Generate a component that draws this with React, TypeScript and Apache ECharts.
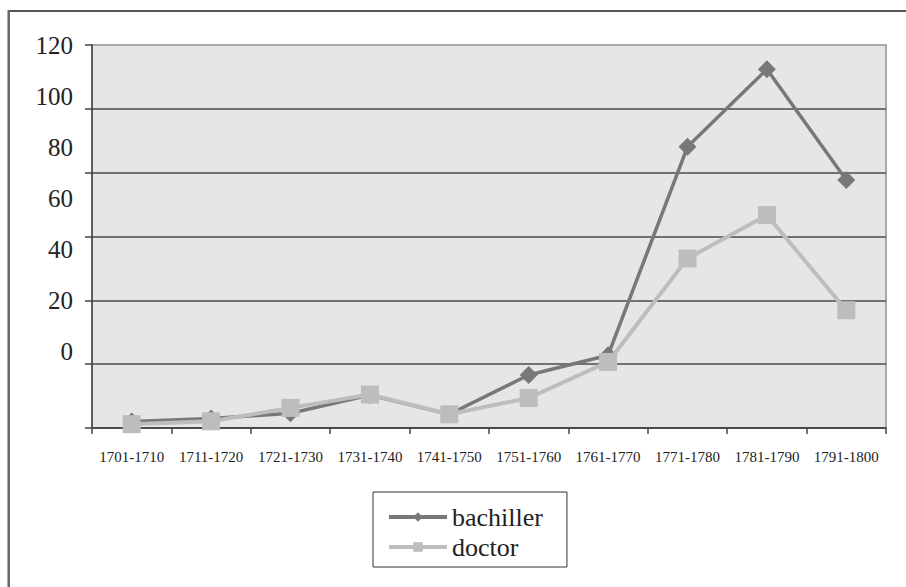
import React, { useEffect, useRef } from "react";
import * as echarts from "echarts";

const categories = [
  "1701-1710",
  "1711-1720",
  "1721-1730",
  "1731-1740",
  "1741-1750",
  "1751-1760",
  "1761-1770",
  "1771-1780",
  "1781-1790",
  "1791-1800",
];
const bachiller = [2, 3, 4.6, 10.3, 4.3, 16.6, 22.8, 88.1, 112.4, 77.7];
const doctor = [1.2, 2.1, 6.3, 10.5, 4.3, 9.4, 20.7, 53.1, 66.7, 36.9];
const yTickLabels = [0, 20, 40, 60, 80, 100, 120];

const FONT = "'Liberation Serif', 'Times New Roman', serif";

export default function App() {
  const ref = useRef<HTMLDivElement>(null);
  useEffect(() => {
    if (!ref.current) return;
    const chart = echarts.init(ref.current, undefined, { renderer: "svg" });
    chart.setOption({
      animation: false,
      backgroundColor: "#ffffff",
      textStyle: { fontFamily: FONT },
      grid: {
        left: 92,
        top: 45,
        width: 794,
        height: 383,
        show: true,
        backgroundColor: "#e6e6e8",
        borderColor: "#a9a9ab",
        borderWidth: 2,
      },
      xAxis: {
        type: "category",
        data: categories,
        boundaryGap: true,
        axisLine: { show: true, lineStyle: { color: "#444", width: 1.5 } },
        axisTick: { show: true, length: 6, alignWithLabel: false, lineStyle: { color: "#444", width: 1.5 } },
        axisLabel: {
          interval: 0,
          margin: 21,
          fontFamily: FONT,
          fontSize: 15,
          color: "#222",
        },
        splitLine: { show: false },
      },
      yAxis: [
        {
          type: "value",
          min: 0,
          max: 120,
          interval: 20,
          position: "left",
          axisLine: { show: true, lineStyle: { color: "#444", width: 1.5 } },
          axisTick: { show: true, length: 7, lineStyle: { color: "#444", width: 1.5 } },
          axisLabel: { show: false },
          splitLine: { show: true, showMaxLine: false, lineStyle: { color: "#4a4a4a", width: 1.5 } },
        },
        {
          type: "value",
          min: -29.8,
          max: 120,
          position: "left",
          axisLine: { show: false },
          axisTick: { show: false },
          splitLine: { show: false },
          axisLabel: {
            show: true,
            customValues: yTickLabels,
            margin: 19,
            fontFamily: FONT,
            fontSize: 25,
            color: "#222",
          },
        },
      ],
      legend: {
        orient: "vertical",
        left: 373,
        top: 492,
        padding: [12, 24, 7, 14],
        borderColor: "#333",
        borderWidth: 1,
        itemWidth: 58,
        itemHeight: 12,
        itemGap: 4,
        lineStyle: { width: 4 },
        formatter: "{s|{name}}",
        textStyle: {
          fontFamily: FONT,
          fontSize: 26,
          color: "#222",
          rich: {
            s: { fontFamily: FONT, fontSize: 26, lineHeight: 25, color: "#222" },
          },
        },
        data: ["bachiller", "doctor"],
      },
      graphic: [
        {
          type: "line",
          shape: { x1: 9, y1: 11, x2: 906, y2: 11 },
          style: { stroke: "#555", lineWidth: 2 },
        },
        {
          type: "line",
          shape: { x1: 8.7, y1: 10, x2: 8.7, y2: 587 },
          style: { stroke: "#666", lineWidth: 2.5 },
        },
      ],
      series: [
        {
          name: "bachiller",
          type: "line",
          data: bachiller,
          symbol: "diamond",
          symbolSize: 18,
          color: "#78787a",
          itemStyle: { color: "#78787a" },
          lineStyle: { color: "#78787a", width: 3.5 },
          z: 2,
        },
        {
          name: "doctor",
          type: "line",
          data: doctor,
          symbol: "rect",
          symbolSize: 18,
          color: "#bdbdbf",
          itemStyle: { color: "#bdbdbf" },
          lineStyle: { color: "#bdbdbf", width: 4 },
          z: 3,
        },
      ],
    });
    return () => chart.dispose();
  }, []);
  return (
    <div
      ref={ref}
      style={{ position: "absolute", left: 0, top: 0, width: 906, height: 587 }}
    />
  );
}
